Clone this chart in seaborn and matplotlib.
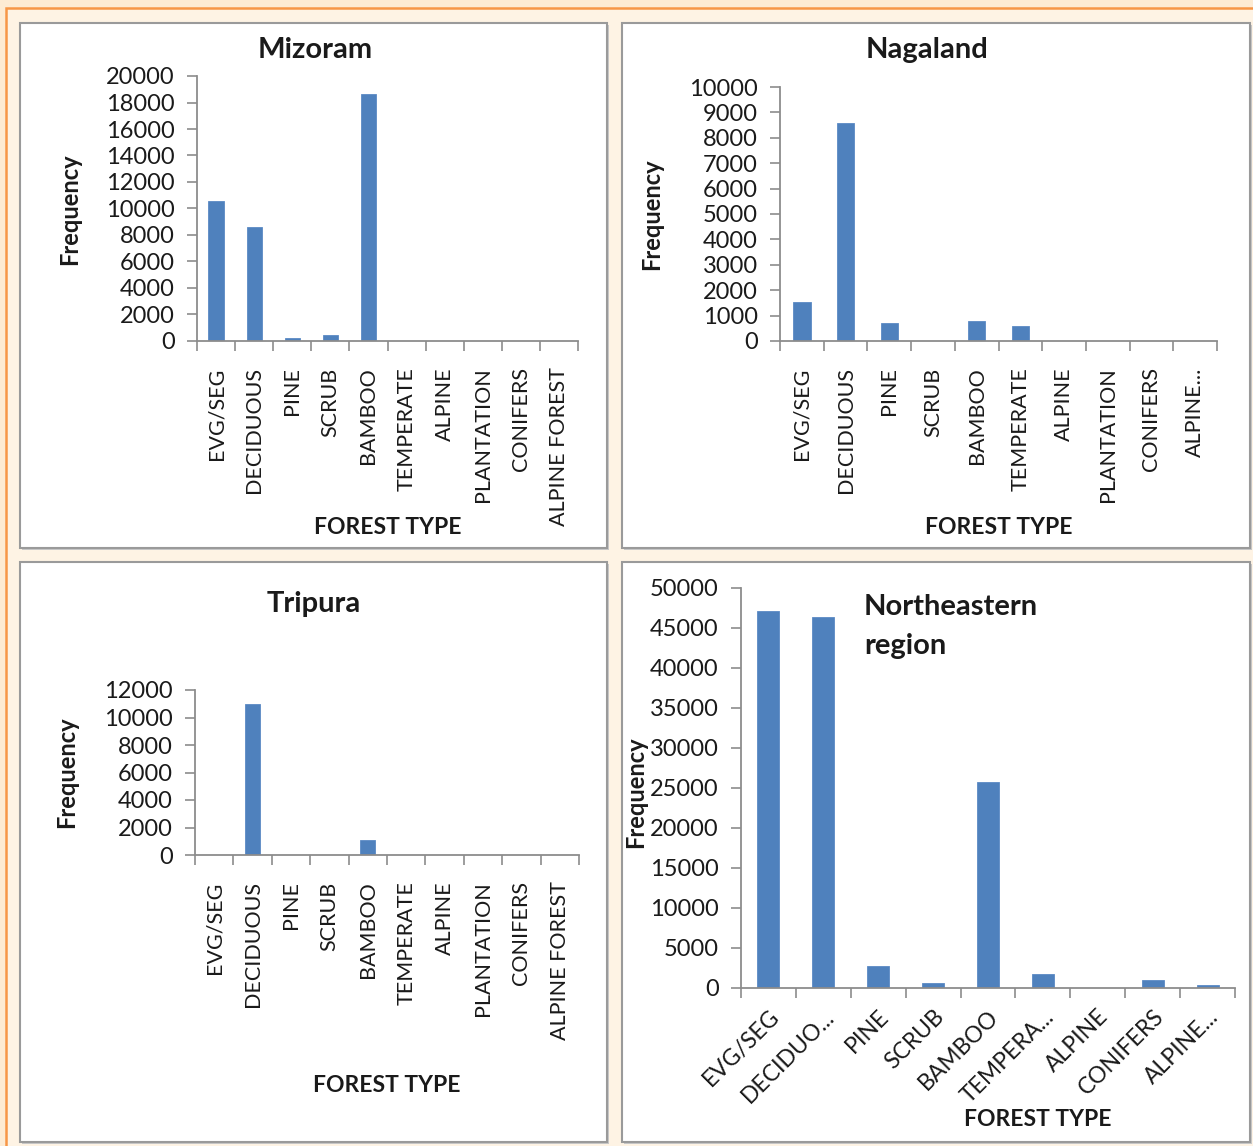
import matplotlib
matplotlib.use("Agg")
import matplotlib.pyplot as plt
import matplotlib.patches as mpatches
import seaborn as sns
import pandas as pd
import numpy as np

# ---------------- data ----------------
categories = ["EVG/SEG", "DECIDUOUS", "PINE", "SCRUB", "BAMBOO", "TEMPERATE",
              "ALPINE", "PLANTATION", "CONIFERS", "ALPINE FOREST"]
nagaland_labels = ["EVG/SEG", "DECIDUOUS", "PINE", "SCRUB", "BAMBOO", "TEMPERATE",
                   "ALPINE", "PLANTATION", "CONIFERS", "ALPINE..."]
ne_categories = ["EVG/SEG", "DECIDUOUS", "PINE", "SCRUB", "BAMBOO", "TEMPERATE",
                 "ALPINE", "CONIFERS", "ALPINE FOREST"]
ne_labels = ["EVG/SEG", "DECIDUO...", "PINE", "SCRUB", "BAMBOO", "TEMPERA...",
             "ALPINE", "CONIFERS", "ALPINE..."]

mizoram = [10600, 8600, 230, 480, 18650, 0, 0, 0, 0, 0]
nagaland = [1550, 8600, 690, 0, 780, 600, 0, 0, 0, 0]
tripura = [0, 10950, 0, 0, 1070, 0, 0, 0, 0, 0]
northeast = [47150, 46350, 2700, 600, 25800, 1750, 0, 950, 350]

mizoram_ticks = list(range(0, 20001, 2000))
nagaland_ticks = list(range(0, 10001, 1000))
tripura_ticks = list(range(0, 12001, 2000))
northeast_ticks = list(range(0, 50001, 5000))

# ---------------- style ----------------
sns.set_theme(style="white")
plt.rcParams["font.family"] = ["Lato", "DejaVu Sans"]

W, H = 1253, 1146
DPI = 100
fig = plt.figure(figsize=(W / DPI, H / DPI), dpi=DPI)
fig.patch.set_facecolor("#FDEBD3")

BAR = "#4F81BD"
AX_GRAY = "#8C8C8C"
TXT = "#1A1A1A"


def fx(px):
    return px / W


def fy(py):
    return 1 - py / H


# inner cream area with orange border
fig.add_artist(mpatches.Rectangle((fx(6), fy(1200)), fx(1300), fy(8) - fy(1200),
                                  transform=fig.transFigure, facecolor="#FEF3E4",
                                  edgecolor="#F79646", linewidth=1.8, zorder=0))

# panels (white boxes with grey frame + shadow)
panels = [(20, 23, 607, 548), (622, 23, 1250, 548),
          (20, 562, 607, 1142), (622, 562, 1250, 1142)]
for (x0, y0, x1, y1) in panels:
    fig.add_artist(mpatches.Rectangle((fx(x0 + 2), fy(y1 + 2)), fx(x1 - x0), fy(y0) - fy(y1),
                                      transform=fig.transFigure, facecolor="#C8C8C8",
                                      edgecolor="none", zorder=0.5))
    fig.add_artist(mpatches.Rectangle((fx(x0), fy(y1)), fx(x1 - x0), fy(y0) - fy(y1),
                                      transform=fig.transFigure, facecolor="white",
                                      edgecolor="#9A9A9A", linewidth=1.5, zorder=0.6))


def make_axes(left, top, right, bottom):
    ax = fig.add_axes([fx(left), fy(bottom), fx(right - left), fy(top) - fy(bottom)])
    ax.set_zorder(3)
    return ax


def draw(ax, cats, labels, values, ticks, rot):
    df = pd.DataFrame({"type": cats, "freq": values})
    sns.barplot(data=df, x="type", y="freq", order=cats, color=BAR, width=0.4,
                saturation=1, ax=ax, edgecolor="#5B8AC4", linewidth=0.6)
    n = len(cats)
    ax.set_xlim(-0.5, n - 0.5)
    ax.set_ylim(0, ticks[-1])
    ax.set_yticks(ticks)
    ax.set_yticklabels([str(t) for t in ticks])
    ax.set_xticks(range(n))
    ax.set_xticklabels(labels)
    ax.set_xticks(np.arange(-0.5, n, 1.0), minor=True)
    ax.patch.set_alpha(0)
    for s in ["top", "right"]:
        ax.spines[s].set_visible(False)
    for s in ["left", "bottom"]:
        ax.spines[s].set_color(AX_GRAY)
        ax.spines[s].set_linewidth(1.3)
    ax.tick_params(axis="y", which="major", direction="out", length=7, width=1.2,
                   color=AX_GRAY, labelsize=17, labelcolor=TXT, pad=9, left=True)
    ax.tick_params(axis="x", which="major", length=0,
                   labelsize=15.5 if rot == 90 else 16.5,
                   labelcolor=TXT, pad=19 if rot == 90 else 13)
    ax.tick_params(axis="x", which="minor", direction="out", length=7, width=1.2,
                   color=AX_GRAY, bottom=True)
    if rot == 90:
        for lab in ax.get_xticklabels():
            lab.set_rotation(90)
            lab.set_ha("center")
            lab.set_va("top")
    else:
        for lab in ax.get_xticklabels():
            lab.set_rotation(45)
            lab.set_ha("right")
            lab.set_va("top")
            lab.set_rotation_mode("anchor")
    ax.grid(False)


# --- Mizoram ---
ax1 = make_axes(197, 76, 578, 341)
draw(ax1, categories, categories, mizoram, mizoram_ticks, 90)
# --- Nagaland ---
ax2 = make_axes(780, 87, 1217, 341)
draw(ax2, categories, nagaland_labels, nagaland, nagaland_ticks, 90)
# --- Tripura ---
ax3 = make_axes(195, 690, 579, 855)
draw(ax3, categories, categories, tripura, tripura_ticks, 90)
# --- Northeastern region ---
ax4 = make_axes(741, 588, 1235, 988)
draw(ax4, ne_categories, ne_labels, northeast, northeast_ticks, 45)

title_kw = dict(fontsize=21, fontweight="bold", color=TXT, zorder=5)
ylab_kw = dict(fontsize=17, fontweight="bold", color=TXT)
xlab_kw = dict(fontsize=16.5, fontweight="bold", color=TXT)

for ax, title, tpos, ypos, xpos in [
    (ax1, "Mizoram", (315, 50), (70, 209), (388, 528)),
    (ax2, "Nagaland", (927, 50), (652, 214), (999, 528)),
    (ax3, "Tripura", (314, 604), (67, 772), (387, 1085)),
]:
    fig.text(fx(tpos[0]), fy(tpos[1]), title, ha="center", va="center", **title_kw)
    ax.set_ylabel("Frequency", **ylab_kw)
    ax.yaxis.set_label_coords(fx(ypos[0]), fy(ypos[1]), transform=fig.transFigure)
    ax.yaxis.label.set_va("center")
    ax.set_xlabel("FOREST TYPE", **xlab_kw)
    ax.xaxis.set_label_coords(fx(xpos[0]), fy(xpos[1]), transform=fig.transFigure)
    ax.xaxis.label.set_va("center")

fig.text(fx(864), fy(594), "Northeastern\nregion", ha="left", va="top",
         linespacing=1.6, **title_kw)
ax4.set_ylabel("Frequency", **ylab_kw)
ax4.yaxis.set_label_coords(fx(636), fy(792), transform=fig.transFigure)
ax4.yaxis.label.set_va("center")
ax4.set_xlabel("FOREST TYPE", **xlab_kw)
ax4.xaxis.set_label_coords(fx(1038), fy(1120), transform=fig.transFigure)
ax4.xaxis.label.set_va("center")

fig.savefig("out.png", dpi=DPI, facecolor=fig.get_facecolor())
